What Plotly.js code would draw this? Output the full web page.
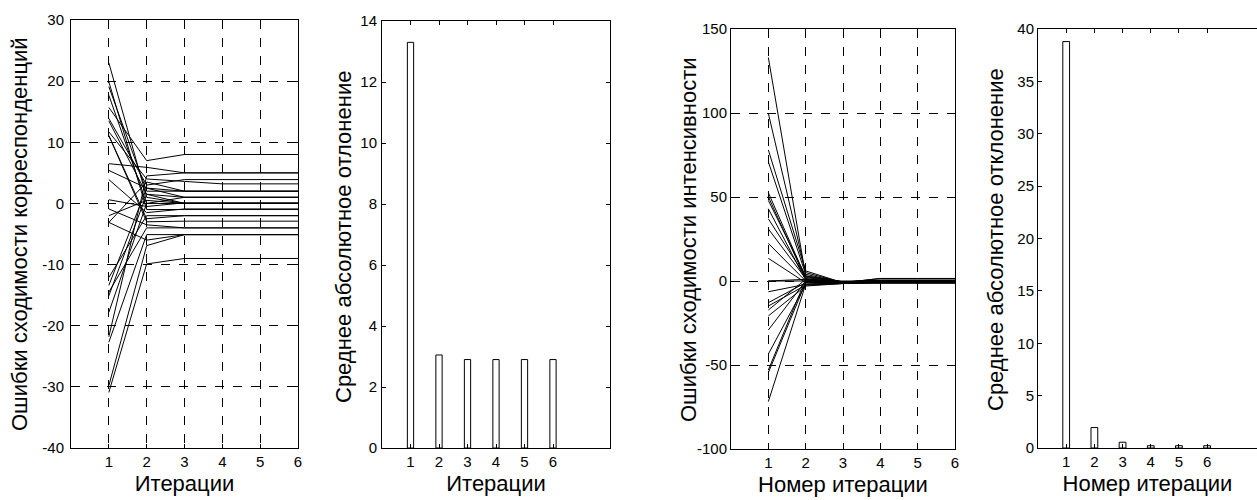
<!DOCTYPE html>
<html><head><meta charset="utf-8">
<script src="https://cdn.plot.ly/plotly-3.0.1.min.js"></script>
<style>body{margin:0;background:#fff}#c{width:1257px;height:500px}</style>
</head><body><div id="c"></div>
<script>
// Iterations
const iterations = [1, 2, 3, 4, 5, 6];

// Y tick values / labels (hyphen minus as in the original)
const yTicks1 = [-40, -30, -20, -10, 0, 10, 20, 30];
const yTickText1 = ["-40", "-30", "-20", "-10", "0", "10", "20", "30"];
const yTicks3 = [-100, -50, 0, 50, 100, 150];
const yTickText3 = ["-100", "-50", "0", "50", "100", "150"];

// Panel 1: convergence errors of correspondences (one row per line)
const corrErrors = [
  [23.0, 1.0, 0.0, 0.0, 0.0, 0.0],
  [19.9, -1.0, -1.0, -1.0, -1.0, -1.0],
  [19.1, 2.0, 2.0, 2.0, 2.0, 2.0],
  [17.7, 0.0, 1.0, 1.0, 1.0, 1.0],
  [15.7, 7.0, 8.0, 8.0, 8.0, 8.0],
  [13.9, 3.0, 3.9, 3.9, 3.9, 3.9],
  [13.5, 1.5, 0.0, 0.0, 0.0, 0.0],
  [11.7, 4.0, 3.6, 3.2, 3.2, 3.2],
  [11.1, -3.0, -2.9, -2.9, -2.9, -2.9],
  [6.5, 5.9, 5.0, 5.0, 5.0, 5.0],
  [5.4, 2.5, 1.0, 1.0, 1.0, 1.0],
  [3.9, -1.5, -0.9, -0.9, -0.9, -0.9],
  [0.6, -0.5, 0.1, 0.1, 0.1, 0.1],
  [-0.9, -3.5, -4.0, -4.0, -4.0, -4.0],
  [-2.0, 0.5, 0.0, 0.0, 0.0, 0.0],
  [-3.1, 3.5, 2.0, 2.0, 2.0, 2.0],
  [-12.1, -2.0, -2.0, -2.0, -2.0, -2.0],
  [-13.4, 2.5, 2.0, 2.0, 2.0, 2.0],
  [-14.5, -4.0, -4.0, -4.0, -4.0, -4.0],
  [-15.1, 1.5, 1.0, 1.0, 1.0, 1.0],
  [-17.8, 0.0, 0.0, 0.0, 0.0, 0.0],
  [-21.8, 4.5, 5.0, 5.0, 5.0, 5.0],
  [-22.7, -5.1, -5.1, -5.1, -5.1, -5.1],
  [-29.8, -6.9, -5.1, -5.1, -5.1, -5.1],
  [-30.9, -9.9, -9.0, -9.0, -9.0, -9.0],
  [-3.1, -6.0, -5.1, -5.1, -5.1, -5.1],
  [11.1, -2.5, -2.0, -2.0, -2.0, -2.0]
];

// Panel 2: mean absolute deviation (correspondences)
const corrMAD = [13.3, 3.05, 2.9, 2.9, 2.9, 2.9];

// Panel 3: convergence errors of intensities
const intensErrors = [
  [133, 3, -0.5, 0.5, 0.5, 0.5],
  [99.8, 5, -1, 1.5, 1.5, 1.5],
  [78, 6, -1, 1.5, 1.5, 1.5],
  [71, 4, -1, 0, 0, 0],
  [52.6, 2, -0.5, -1, -1, -1],
  [50.2, 1, -1, -0.5, -0.5, -0.5],
  [48, 3, -0.5, 0, 0, 0],
  [43, 0.5, -1, -1, -1, -1],
  [37, 2.5, -0.5, 0.5, 0.5, 0.5],
  [31, 1.5, -1, -1, -1, -1],
  [22.4, 0, -1, 0, 0, 0],
  [13.5, -1, -1, -1, -1, -1],
  [0, 0, 0, 0, 0, 0],
  [0, 1, -0.5, 0, 0, 0],
  [-6.4, -2, -1, -1, -1, -1],
  [-12.9, -1, -1, -0.5, -0.5, -0.5],
  [-14.9, -2.5, -1.5, -1, -1, -1],
  [-17.3, 1, -0.5, 0, 0, 0],
  [-20.8, -3, -1.5, -1, -1, -1],
  [-29.2, 0, -1, -1, -1, -1],
  [-43.5, -2, -1, -0.5, -0.5, -0.5],
  [-53, 1, -0.5, -1, -1, -1],
  [-54.6, -1, -1, -0.5, -0.5, -0.5],
  [-71.8, -2, -1.5, -1, -1, -1]
];

// Panel 4: mean absolute deviation (intensities)
const intensMAD = [38.8, 1.95, 0.55, 0.22, 0.22, 0.22];

// Titles
const xTitle1 = "Итерации";
const xTitle2 = "Номер итерации";
const yTitle1 = "Ошибки сходимости корреспонденций";
const yTitle2 = "Среднее абсолютное отлонение";
const yTitle3 = "Ошибки сходимости интенсивности";
const yTitle4 = "Среднее абсолютное отклонение";

const traces = [];
corrErrors.forEach(r => traces.push({x: iterations, y: r, type: 'scatter', mode: 'lines',
  line: {color: '#000', width: 1}, xaxis: 'x', yaxis: 'y', showlegend: false, hoverinfo: 'skip'}));
traces.push({x: iterations, y: corrMAD, type: 'bar', width: 0.22,
  marker: {color: '#fff', line: {color: '#000', width: 1}}, xaxis: 'x2', yaxis: 'y2', showlegend: false});
intensErrors.forEach(r => traces.push({x: iterations, y: r, type: 'scatter', mode: 'lines',
  line: {color: '#000', width: 1}, xaxis: 'x3', yaxis: 'y3', showlegend: false, hoverinfo: 'skip'}));
traces.push({x: iterations, y: intensMAD, type: 'bar', width: 0.24,
  marker: {color: '#fff', line: {color: '#000', width: 1}}, xaxis: 'x4', yaxis: 'y4', showlegend: false});

const W = 1257, H = 500;
const fx = p => p / W;
const fy = p => (H - p) / H;
const FAM = '"Liberation Sans", Arial, sans-serif';
const tickFont = {family: FAM, size: 15, color: '#000'};
const titleFont = {family: FAM, size: 22, color: '#000'};

function ax(extra) {
  return Object.assign({
    showline: true, linecolor: '#000', linewidth: 1, mirror: 'ticks',
    ticks: 'inside', ticklen: 4, tickcolor: '#000', tickfont: tickFont,
    zeroline: false, showgrid: false, automargin: false, fixedrange: true
  }, extra);
}
const grid = {showgrid: true, gridcolor: '#000', griddash: 'dash', gridwidth: 1};

function yTitle(text, px, py) {
  return {text: text, xref: 'paper', yref: 'paper', x: fx(px), y: fy(py), textangle: -90,
    xanchor: 'center', yanchor: 'middle', showarrow: false, font: titleFont};
}

const layout = {
  width: W, height: H, margin: {l: 0, r: 0, t: 0, b: 0},
  paper_bgcolor: '#fff', plot_bgcolor: '#fff', bargap: 0,
  font: tickFont,
  xaxis: ax(Object.assign({domain: [fx(71), fx(298)], range: [0, 6], tickvals: iterations, anchor: 'y',
    title: {text: xTitle1, font: titleFont, standoff: 6}}, grid)),
  yaxis: ax(Object.assign({domain: [fy(448), fy(20)], range: [-40, 30], tickvals: yTicks1, ticktext: yTickText1,
    anchor: 'x', ticklabelstandoff: 3}, grid)),
  xaxis2: ax({domain: [fx(382), fx(610)], range: [0, 8], tickvals: iterations, anchor: 'y2',
    title: {text: xTitle1, font: titleFont, standoff: 6}}),
  yaxis2: ax({domain: [fy(448), fy(21)], range: [0, 14], dtick: 2, anchor: 'x2', ticklabelstandoff: 1}),
  xaxis3: ax(Object.assign({domain: [fx(731), fx(955)], range: [0, 6], tickvals: iterations, anchor: 'y3',
    title: {text: xTitle2, font: titleFont, standoff: 6}}, grid)),
  yaxis3: ax(Object.assign({domain: [fy(449), fy(29)], range: [-100, 150], tickvals: yTicks3, ticktext: yTickText3,
    anchor: 'x3'}, grid)),
  xaxis4: ax({domain: [fx(1038), 1], range: [0, 7.77], tickvals: iterations, anchor: 'y4',
    title: {text: xTitle2, font: titleFont, standoff: 6}}),
  yaxis4: ax({domain: [fy(448), fy(29)], range: [0, 40], dtick: 5, anchor: 'x4', mirror: false}),
  annotations: [
    yTitle(yTitle1, 19, 234),
    yTitle(yTitle2, 343, 237),
    yTitle(yTitle3, 688, 240),
    yTitle(yTitle4, 995, 240)
  ]
};

Plotly.newPlot('c', traces, layout, {staticPlot: true, displayModeBar: false});
</script></body></html>
